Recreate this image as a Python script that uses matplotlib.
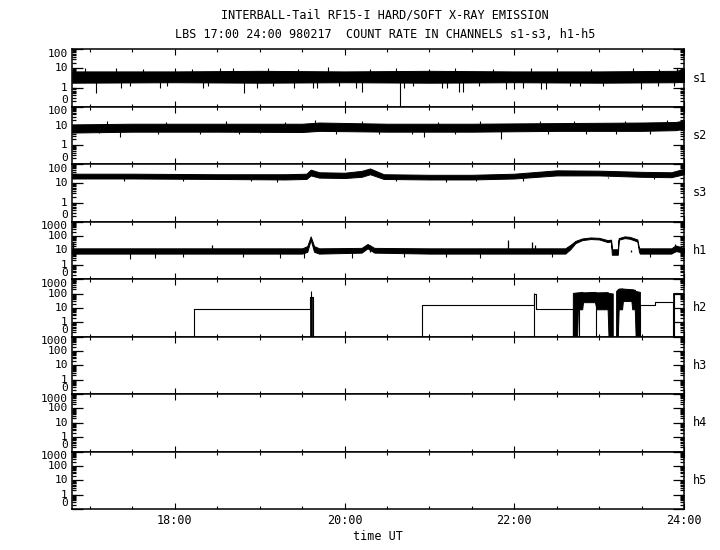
import numpy as np
import matplotlib
matplotlib.use('Agg')
import matplotlib.pyplot as plt
from matplotlib.ticker import LogLocator, NullFormatter, MultipleLocator

plt.rcParams['font.family'] = 'DejaVu Sans Mono'
plt.rcParams['font.size'] = 8.5

## time axis (hours UT)
t_start, t_end = 16.787, 24.0
time_ticks = [18, 20, 22, 24]
time_labels = ['18:00', '20:00', '22:00', '24:00']
channels = ['s1', 's2', 's3', 'h1', 'h2', 'h3', 'h4', 'h5']
ytop = {'s1': 100, 's2': 100, 's3': 100, 'h1': 1000, 'h2': 1000, 'h3': 1000, 'h4': 1000, 'h5': 1000}

## s1 noise band and spikes
s1_t = [16.79, 18.0, 19.0, 20.0, 21.0, 22.0, 23.0, 23.9, 24.0]
s1_lo = [1.8, 1.9, 1.8, 1.9, 1.8, 1.9, 1.8, 1.9, 2.0]
s1_hi = [7.0, 7.0, 7.5, 7.0, 7.5, 7.0, 7.0, 7.5, 9.0]
s1_dn_t = [17.07, 17.37, 17.47, 17.83, 17.91, 18.33, 18.39, 18.81, 18.97, 19.16, 19.40, 19.63,
           19.68, 19.93, 20.13, 20.21, 20.65, 20.70, 20.81, 21.15, 21.21, 21.35, 21.39, 21.58,
           21.90, 22.00, 22.10, 22.31, 22.37, 22.66, 22.78, 23.05, 23.49, 23.69, 23.88]
s1_dn_v = [0.55, 1.0, 1.2, 1.0, 1.2, 1.0, 1.2, 0.55, 1.0, 1.2, 1.0, 0.9,
           1.0, 1.2, 1.0, 0.6, 0.1, 1.0, 1.2, 0.9, 0.9, 0.6, 0.6, 1.2,
           0.8, 0.8, 1.0, 0.8, 0.8, 1.2, 1.2, 1.2, 0.8, 1.2, 1.2]
s1_up_t = [16.94, 17.30, 17.62, 18.00, 18.20, 18.53, 18.69, 19.10, 19.45, 19.80, 20.30, 20.60,
           21.00, 21.30, 21.75, 22.20, 22.50, 22.90, 23.40, 23.70, 23.92]
s1_up_v = [11, 10, 9.5, 10, 9.5, 10, 10, 11, 9.5, 12, 9.5, 10, 9.5, 10, 9.5, 10, 11, 9.5, 10, 9.5, 11]

## s2
s2_t = [16.79, 17.5, 18.5, 19.5, 19.7, 20.5, 21.5, 22.5, 23.5, 23.9, 24.0]
s2_lo = [4.5, 5.0, 5.0, 4.8, 5.5, 5.0, 5.0, 5.5, 5.5, 6.0, 7.0]
s2_hi = [12, 13, 13, 13, 15, 13, 13, 14, 15, 16, 19]
s2_dn_t = [17.10, 17.35, 17.80, 18.30, 18.75, 19.00, 19.90, 20.40, 20.80, 20.94, 21.30, 21.84,
           22.40, 22.85, 23.20, 23.60]
s2_dn_v = [4.2, 2.6, 3.8, 3.8, 4.0, 4.5, 3.8, 3.8, 3.8, 2.6, 3.8, 2.1, 4.0, 3.8, 4.0, 3.8]
s2_up_t = [17.20, 17.90, 18.60, 19.30, 19.65, 20.20, 21.10, 21.60, 22.30, 22.70, 23.30, 23.80]
s2_up_v = [17, 16, 17, 16, 20, 17, 16, 17, 18, 17, 19, 20]

## s3
s3_t = [16.79, 17.5, 18.5, 19.3, 19.55, 19.6, 19.7, 20.0, 20.2, 20.3, 20.46, 21.0, 21.5, 22.0,
        22.5, 23.0, 23.5, 23.85, 24.0]
s3_lo = [18, 18, 17, 16, 17, 26, 20, 19, 22, 30, 17, 16, 16, 18, 26, 26, 22, 21, 30]
s3_hi = [32, 32, 30, 30, 32, 52, 38, 36, 45, 60, 30, 28, 28, 32, 48, 46, 40, 38, 58]
s3_dn_t = [17.40, 18.10, 18.90, 19.20, 20.60, 21.20, 21.55, 22.10, 23.10, 23.65]
s3_dn_v = [14, 14, 13, 12, 14, 12, 13, 14, 18, 16]

## h1
h1_t = [16.79, 17.5, 18.5, 19.5, 19.56, 19.60, 19.64, 19.7, 20.2, 20.27, 20.35, 21.0, 22.0, 22.6,
        22.66, 22.72, 22.8, 22.9, 23.0, 23.1, 23.14, 23.15, 23.22, 23.23, 23.3, 23.36, 23.45,
        23.47, 23.48, 23.85, 23.9, 24.0]
h1_lo = [6, 6, 6, 6, 8, 55, 8, 6, 7, 14, 7, 6, 6, 6,
         12, 32, 52, 62, 58, 38, 42, 5, 5, 55, 72, 65, 42,
         8, 6, 6, 9, 7]
h1_hi = [14, 14, 14, 14, 20, 95, 20, 14, 15, 28, 15, 14, 14, 14,
         24, 46, 68, 80, 75, 52, 56, 12, 12, 72, 95, 88, 58,
         14, 14, 14, 22, 15]
h1_sp_t = [16.80, 18.44, 20.30, 21.93, 22.21, 22.24, 23.38, 23.89]
h1_sp_v = [38, 23, 25, 50, 38, 25, 10, 30]
h1_dn_t = [17.47, 17.77, 18.10, 18.80, 19.24, 19.52, 20.09, 20.70, 21.20, 21.60, 22.45, 23.60]
h1_dn_v = [2.5, 3.0, 3.5, 3.5, 3.0, 3.0, 3.0, 3.5, 3.5, 3.0, 3.5, 3.5]

## h2 step levels
h2_t = [16.787, 18.22, 19.59, 19.63, 20.91, 22.23, 22.25, 22.69, 23.16, 23.20, 23.48, 23.66, 23.87, 23.885, 24.0]
h2_v = [0, 8.4, 60, 0, 16.5, 100, 8.4, 0, 0, 0, 16.5, 25, 0, 104, 104]
h2_sp_t = [19.600, 22.235]
h2_sp_v = [160, 104]
# dense burst regions
h2_b1_t = [22.69, 22.74, 22.75, 22.80, 22.81, 22.95, 22.97, 23.10, 23.11, 23.16]
h2_b1_hi = [110, 120, 120, 130, 120, 130, 120, 125, 110, 100]
h2_b1_lo = [0, 0, 8, 8, 25, 25, 8, 8, 0, 0]
h2_b2_t = [23.20, 23.22, 23.23, 23.27, 23.28, 23.38, 23.39, 23.42, 23.43, 23.48]
h2_b2_hi = [150, 200, 220, 230, 220, 200, 200, 180, 150, 130]
h2_b2_lo = [0, 0, 8, 8, 30, 30, 8, 8, 0, 0]
h2_ln_t = [22.76, 22.96, 23.21]


def z(v):
    return np.clip(np.asarray(v, dtype=float), 0.1, None)


fig, axes = plt.subplots(8, 1, sharex=True, figsize=(7.2, 5.5), dpi=100)
fig.subplots_adjust(left=0.1, right=0.95, top=0.9104, bottom=0.0745, hspace=0)
ax_of = dict(zip(channels, axes))

# s channels: band + spikes from band
for name, t, lo, hi in [('s1', s1_t, s1_lo, s1_hi), ('s2', s2_t, s2_lo, s2_hi), ('s3', s3_t, s3_lo, s3_hi)]:
    ax_of[name].fill_between(t, z(lo), z(hi), color='k', lw=0.7)
ax_of['s1'].vlines(s1_dn_t, z(s1_dn_v), 2.5, color='k', lw=0.8)
ax_of['s1'].vlines(s1_up_t, 5, s1_up_v, color='k', lw=0.8)
ax_of['s2'].vlines(s2_dn_t, z(s2_dn_v), 6, color='k', lw=0.8)
ax_of['s2'].vlines(s2_up_t, 10, s2_up_v, color='k', lw=0.8)
ax_of['s3'].vlines(s3_dn_t, s3_dn_v, 22, color='k', lw=0.8)

ax = ax_of['h1']
ax.fill_between(h1_t, z(h1_lo), z(h1_hi), color='k', lw=0.7)
ax.vlines(h1_sp_t, 8, h1_sp_v, color='k', lw=0.9)
ax.vlines(h1_dn_t, h1_dn_v, 8, color='k', lw=0.8)

ax = ax_of['h2']
ax.step(h2_t, z(h2_v), where='post', color='k', lw=0.8)
ax.vlines(h2_sp_t, 0.1, h2_sp_v, color='k', lw=0.8)
ax.fill_between(h2_b1_t, z(h2_b1_lo), z(h2_b1_hi), color='k', lw=0.7)
ax.fill_between(h2_b2_t, z(h2_b2_lo), z(h2_b2_hi), color='k', lw=0.7)
ax.vlines(h2_ln_t, 0.1, 100, color='k', lw=0.8)
ax.fill_between([19.59, 19.62], 0.1, 60, color='k', lw=0.5)
ax.fill_between([23.87, 23.885], 0.1, 104, color='k', lw=0.5)

for name in channels:
    ax = ax_of[name]
    top = ytop[name]
    ax.set_yscale('log')
    ax.set_ylim(0.1, top)
    ax.set_xlim(t_start, t_end)
    ax.yaxis.set_major_locator(LogLocator(base=10))
    ax.yaxis.set_minor_locator(LogLocator(base=10, subs=range(2, 10)))
    ax.yaxis.set_minor_formatter(NullFormatter())
    ax.tick_params(axis='y', which='both', direction='in', left=True, right=True,
                   labelleft=False, width=0.9)
    ax.tick_params(axis='y', which='major', length=8)
    ax.tick_params(axis='y', which='minor', length=3)
    ax.set_xticks(time_ticks)
    ax.xaxis.set_minor_locator(MultipleLocator(0.5))
    ax.tick_params(axis='x', which='both', direction='in', top=True, bottom=True, width=0.8)
    ax.tick_params(axis='x', which='major', length=4)
    ax.tick_params(axis='x', which='minor', length=2.5)
    for sp in ax.spines.values():
        sp.set_linewidth(1.1)
    vals = [0.1, 1, 10, 100] + ([1000] if top == 1000 else [])
    for v in vals:
        lab = '0' if v == 0.1 else str(v)
        dy = 4.6 if v == 0.1 else (-3.4 if v == top else 0)
        ax.annotate(lab, xy=(0, v), xycoords=('axes fraction', 'data'), xytext=(-3, dy),
                    textcoords='offset points', ha='right', va='center', fontsize=8)
    ax.text(1.015, 0.5, name, transform=ax.transAxes, ha='left', va='center')

axes[-1].set_xticklabels(time_labels)
axes[-1].set_xlabel('time UT', labelpad=2)

fig.text(0.535, 0.9727, 'INTERBALL-Tail RF15-I HARD/SOFT X-RAY EMISSION', ha='center', va='center')
fig.text(0.535, 0.938, 'LBS 17:00 24:00 980217  COUNT RATE IN CHANNELS s1-s3, h1-h5', ha='center', va='center')

plt.savefig('out.png', dpi=100)
plt.close()
